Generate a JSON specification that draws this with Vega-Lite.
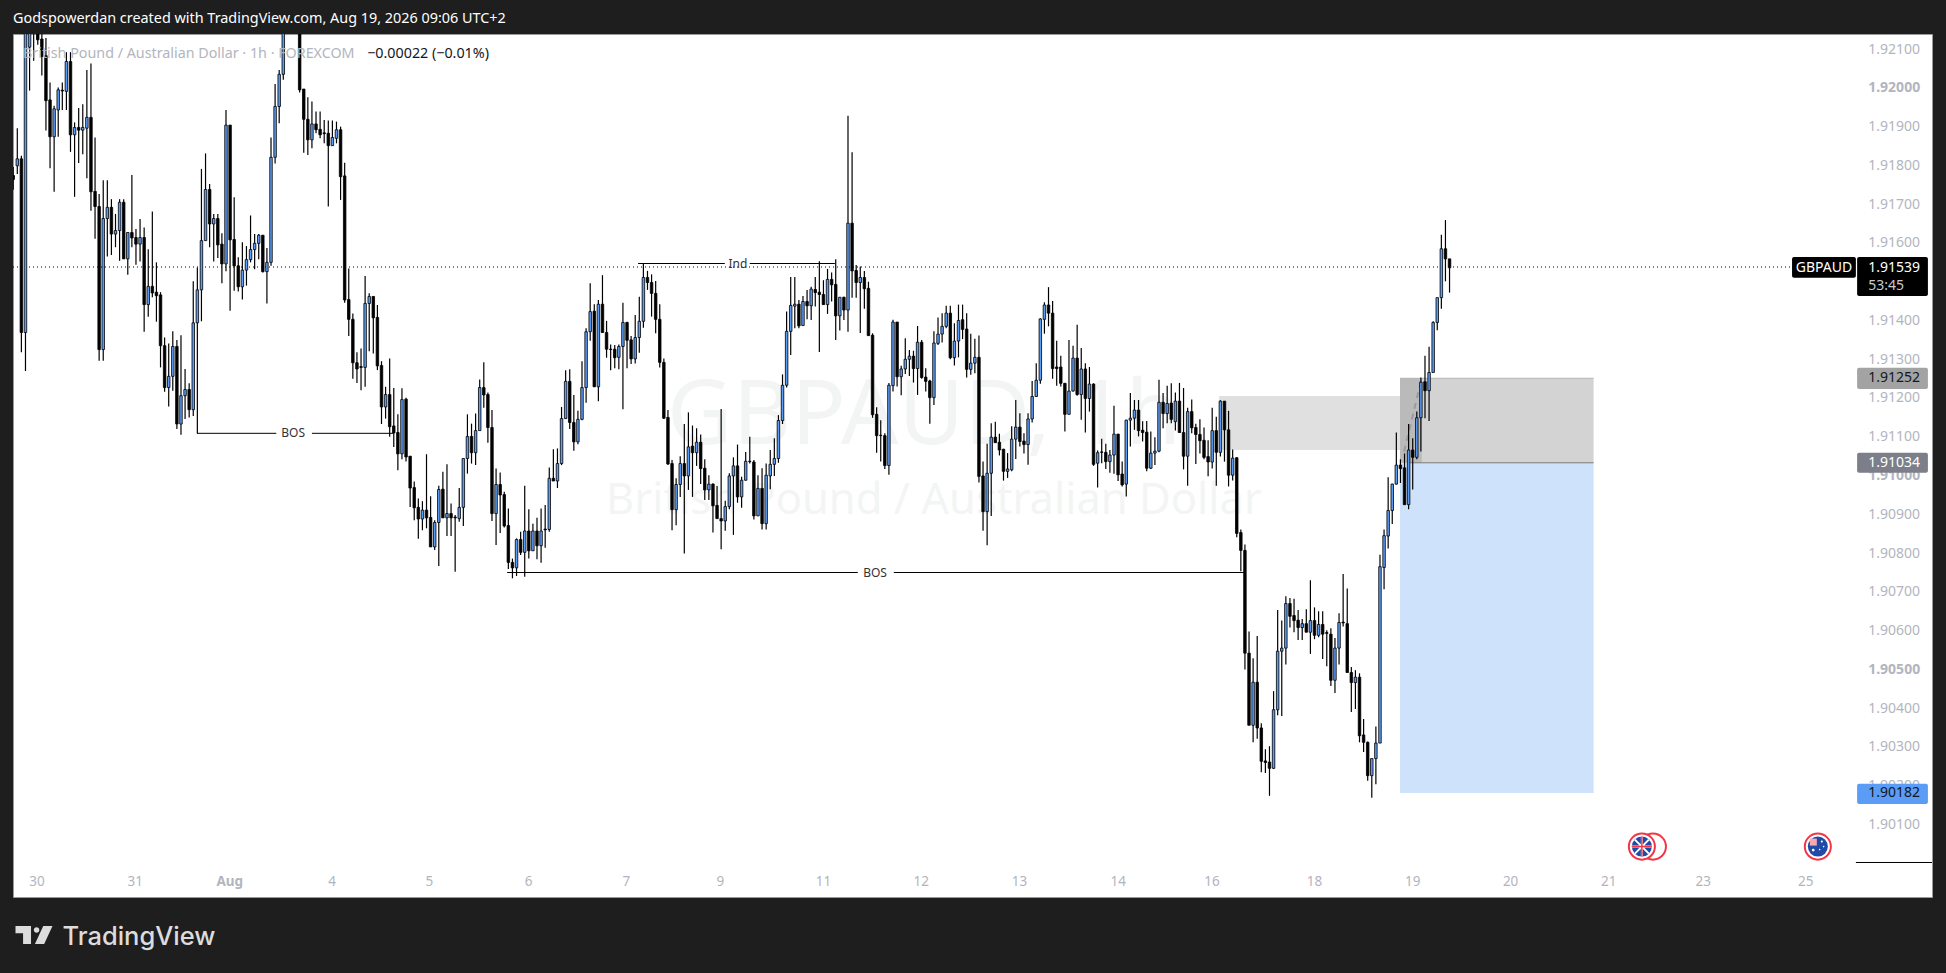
{
  "$schema": "https://vega.github.io/schema/vega-lite/v6.json",
  "width": 1919,
  "height": 863,
  "autosize": {"type": "none"},
  "padding": {"left": 13, "top": 34, "right": 14, "bottom": 76},
  "background": "#1e1e1e",
  "view": {"fill": "#ffffff", "stroke": "#9a9a9a"},
  "title": {
    "text": "Godspowerdan created with TradingView.com, Aug 19, 2026 09:06 UTC+2",
    "anchor": "start",
    "frame": "group",
    "color": "#ffffff",
    "font": "Noto Sans",
    "fontSize": 14.4,
    "fontWeight": "normal",
    "offset": 8
  },
  "resolve": {"scale": {"color": "independent"}},
  "datasets": {
    "candles": [
      {"i":0,"o":1.91775,"h":1.91797,"l":1.91738,"c":1.91765},
      {"i":1,"o":1.91800,"h":1.91897,"l":1.91779,"c":1.91818},
      {"i":2,"o":1.91818,"h":1.91826,"l":1.91319,"c":1.91370},
      {"i":3,"o":1.91370,"h":1.92269,"l":1.91271,"c":1.92166},
      {"i":4,"o":1.92106,"h":1.92192,"l":1.91994,"c":1.92157},
      {"i":5,"o":1.92192,"h":1.92209,"l":1.92071,"c":1.92149},
      {"i":6,"o":1.92174,"h":1.92192,"l":1.92112,"c":1.92125},
      {"i":7,"o":1.92127,"h":1.92140,"l":1.92033,"c":1.92082},
      {"i":8,"o":1.92084,"h":1.92130,"l":1.91891,"c":1.91968},
      {"i":9,"o":1.91970,"h":1.92015,"l":1.91794,"c":1.91875},
      {"i":10,"o":1.91875,"h":1.91955,"l":1.91733,"c":1.91947},
      {"i":11,"o":1.91944,"h":1.92002,"l":1.91875,"c":1.91996},
      {"i":12,"o":1.91995,"h":1.92015,"l":1.91944,"c":1.91993},
      {"i":13,"o":1.91992,"h":1.92093,"l":1.91944,"c":1.92069},
      {"i":14,"o":1.92069,"h":1.92093,"l":1.91836,"c":1.91880},
      {"i":15,"o":1.91880,"h":1.91912,"l":1.91720,"c":1.91899},
      {"i":16,"o":1.91899,"h":1.91949,"l":1.91807,"c":1.91892},
      {"i":17,"o":1.91892,"h":1.91959,"l":1.91830,"c":1.91899},
      {"i":18,"o":1.91897,"h":1.92047,"l":1.91768,"c":1.91925},
      {"i":19,"o":1.91925,"h":1.92064,"l":1.91684,"c":1.91733},
      {"i":20,"o":1.91734,"h":1.91873,"l":1.91612,"c":1.91695},
      {"i":21,"o":1.91695,"h":1.91727,"l":1.91297,"c":1.91326},
      {"i":22,"o":1.91326,"h":1.91763,"l":1.91297,"c":1.91664},
      {"i":23,"o":1.91664,"h":1.91763,"l":1.91566,"c":1.91693},
      {"i":24,"o":1.91693,"h":1.91714,"l":1.91570,"c":1.91624},
      {"i":25,"o":1.91624,"h":1.91676,"l":1.91590,"c":1.91633},
      {"i":26,"o":1.91633,"h":1.91714,"l":1.91555,"c":1.91706},
      {"i":27,"o":1.91706,"h":1.91714,"l":1.91560,"c":1.91560},
      {"i":28,"o":1.91560,"h":1.91628,"l":1.91519,"c":1.91628},
      {"i":29,"o":1.91628,"h":1.91776,"l":1.91590,"c":1.91614},
      {"i":30,"o":1.91615,"h":1.91637,"l":1.91545,"c":1.91598},
      {"i":31,"o":1.91598,"h":1.91663,"l":1.91553,"c":1.91615},
      {"i":32,"o":1.91615,"h":1.91641,"l":1.91372,"c":1.91442},
      {"i":33,"o":1.91442,"h":1.91585,"l":1.91411,"c":1.91489},
      {"i":34,"o":1.91489,"h":1.91682,"l":1.91461,"c":1.91472},
      {"i":35,"o":1.91474,"h":1.91551,"l":1.91398,"c":1.91465},
      {"i":36,"o":1.91467,"h":1.91474,"l":1.91280,"c":1.91336},
      {"i":37,"o":1.91336,"h":1.91357,"l":1.91217,"c":1.91228},
      {"i":38,"o":1.91228,"h":1.91342,"l":1.91179,"c":1.91257},
      {"i":39,"o":1.91257,"h":1.91373,"l":1.91220,"c":1.91334},
      {"i":40,"o":1.91334,"h":1.91351,"l":1.91121,"c":1.91134},
      {"i":41,"o":1.91134,"h":1.91363,"l":1.91106,"c":1.91207},
      {"i":42,"o":1.91207,"h":1.91276,"l":1.91147,"c":1.91223},
      {"i":43,"o":1.91223,"h":1.91239,"l":1.91151,"c":1.91171},
      {"i":44,"o":1.91171,"h":1.91502,"l":1.91155,"c":1.91395},
      {"i":45,"o":1.91395,"h":1.91538,"l":1.91110,"c":1.91480},
      {"i":46,"o":1.91480,"h":1.91792,"l":1.91399,"c":1.91607},
      {"i":47,"o":1.91607,"h":1.91832,"l":1.91607,"c":1.91739},
      {"i":48,"o":1.91739,"h":1.91753,"l":1.91590,"c":1.91650},
      {"i":49,"o":1.91650,"h":1.91676,"l":1.91553,"c":1.91664},
      {"i":50,"o":1.91664,"h":1.91676,"l":1.91562,"c":1.91596},
      {"i":51,"o":1.91598,"h":1.91626,"l":1.91497,"c":1.91547},
      {"i":52,"o":1.91547,"h":1.91944,"l":1.91528,"c":1.91905},
      {"i":53,"o":1.91905,"h":1.91905,"l":1.91426,"c":1.91609},
      {"i":54,"o":1.91610,"h":1.91719,"l":1.91478,"c":1.91542},
      {"i":55,"o":1.91542,"h":1.91564,"l":1.91476,"c":1.91488},
      {"i":56,"o":1.91488,"h":1.91603,"l":1.91455,"c":1.91531},
      {"i":57,"o":1.91531,"h":1.91593,"l":1.91491,"c":1.91558},
      {"i":58,"o":1.91558,"h":1.91672,"l":1.91551,"c":1.91584},
      {"i":59,"o":1.91584,"h":1.91624,"l":1.91533,"c":1.91600},
      {"i":60,"o":1.91600,"h":1.91624,"l":1.91559,"c":1.91621},
      {"i":61,"o":1.91621,"h":1.91621,"l":1.91525,"c":1.91527},
      {"i":62,"o":1.91527,"h":1.91588,"l":1.91445,"c":1.91551},
      {"i":63,"o":1.91551,"h":1.91873,"l":1.91542,"c":1.91822},
      {"i":64,"o":1.91822,"h":1.92011,"l":1.91806,"c":1.91953},
      {"i":65,"o":1.91953,"h":1.92047,"l":1.91910,"c":1.92036},
      {"i":66,"o":1.92036,"h":1.92174,"l":1.92022,"c":1.92157},
      {"i":67,"o":1.92190,"h":1.92220,"l":1.92145,"c":1.92160},
      {"i":68,"o":1.92200,"h":1.92230,"l":1.92150,"c":1.92170},
      {"i":69,"o":1.92190,"h":1.92210,"l":1.92145,"c":1.92155},
      {"i":70,"o":1.92157,"h":1.92183,"l":1.91989,"c":1.91996},
      {"i":71,"o":1.91998,"h":1.91998,"l":1.91834,"c":1.91920},
      {"i":72,"o":1.91920,"h":1.91977,"l":1.91828,"c":1.91867},
      {"i":73,"o":1.91867,"h":1.91966,"l":1.91845,"c":1.91908},
      {"i":74,"o":1.91908,"h":1.91940,"l":1.91884,"c":1.91893},
      {"i":75,"o":1.91894,"h":1.91940,"l":1.91871,"c":1.91880},
      {"i":76,"o":1.91885,"h":1.91918,"l":1.91858,"c":1.91883},
      {"i":77,"o":1.91884,"h":1.91917,"l":1.91695,"c":1.91852},
      {"i":78,"o":1.91852,"h":1.91917,"l":1.91852,"c":1.91873},
      {"i":79,"o":1.91871,"h":1.91914,"l":1.91858,"c":1.91893},
      {"i":80,"o":1.91893,"h":1.91901,"l":1.91712,"c":1.91772},
      {"i":81,"o":1.91774,"h":1.91808,"l":1.91447,"c":1.91454},
      {"i":82,"o":1.91455,"h":1.91535,"l":1.91361,"c":1.91404},
      {"i":83,"o":1.91404,"h":1.91419,"l":1.91251,"c":1.91292},
      {"i":84,"o":1.91292,"h":1.91319,"l":1.91240,"c":1.91276},
      {"i":85,"o":1.91282,"h":1.91329,"l":1.91221,"c":1.91280},
      {"i":86,"o":1.91280,"h":1.91516,"l":1.91230,"c":1.91445},
      {"i":87,"o":1.91445,"h":1.91471,"l":1.91322,"c":1.91463},
      {"i":88,"o":1.91463,"h":1.91463,"l":1.91316,"c":1.91408},
      {"i":89,"o":1.91409,"h":1.91441,"l":1.91273,"c":1.91284},
      {"i":90,"o":1.91285,"h":1.91296,"l":1.91134,"c":1.91178},
      {"i":91,"o":1.91178,"h":1.91230,"l":1.91148,"c":1.91210},
      {"i":92,"o":1.91210,"h":1.91303,"l":1.91101,"c":1.91127},
      {"i":93,"o":1.91129,"h":1.91227,"l":1.91075,"c":1.91111},
      {"i":94,"o":1.91112,"h":1.91159,"l":1.91015,"c":1.91057},
      {"i":95,"o":1.91057,"h":1.91226,"l":1.91043,"c":1.91197},
      {"i":96,"o":1.91198,"h":1.91202,"l":1.91037,"c":1.91049},
      {"i":97,"o":1.91051,"h":1.91051,"l":1.90920,"c":1.90969},
      {"i":98,"o":1.90970,"h":1.90986,"l":1.90886,"c":1.90918},
      {"i":99,"o":1.90919,"h":1.90942,"l":1.90838,"c":1.90889},
      {"i":100,"o":1.90889,"h":1.90935,"l":1.90860,"c":1.90912},
      {"i":101,"o":1.90912,"h":1.91056,"l":1.90865,"c":1.90892},
      {"i":102,"o":1.90893,"h":1.90948,"l":1.90817,"c":1.90817},
      {"i":103,"o":1.90817,"h":1.90886,"l":1.90809,"c":1.90880},
      {"i":104,"o":1.90880,"h":1.90975,"l":1.90768,"c":1.90965},
      {"i":105,"o":1.90966,"h":1.91011,"l":1.90892,"c":1.90892},
      {"i":106,"o":1.90892,"h":1.91030,"l":1.90845,"c":1.90903},
      {"i":107,"o":1.90903,"h":1.90929,"l":1.90845,"c":1.90892},
      {"i":108,"o":1.90894,"h":1.90899,"l":1.90753,"c":1.90892},
      {"i":109,"o":1.90890,"h":1.90969,"l":1.90882,"c":1.90919},
      {"i":110,"o":1.90919,"h":1.91045,"l":1.90871,"c":1.91045},
      {"i":111,"o":1.91045,"h":1.91159,"l":1.91006,"c":1.91102},
      {"i":112,"o":1.91102,"h":1.91135,"l":1.91032,"c":1.91060},
      {"i":113,"o":1.91060,"h":1.91161,"l":1.91028,"c":1.91117},
      {"i":114,"o":1.91117,"h":1.91249,"l":1.91117,"c":1.91228},
      {"i":115,"o":1.91228,"h":1.91293,"l":1.91176,"c":1.91209},
      {"i":116,"o":1.91210,"h":1.91215,"l":1.91086,"c":1.91125},
      {"i":117,"o":1.91125,"h":1.91170,"l":1.90884,"c":1.90903},
      {"i":118,"o":1.90903,"h":1.91019,"l":1.90822,"c":1.90978},
      {"i":119,"o":1.90978,"h":1.91009,"l":1.90853,"c":1.90951},
      {"i":120,"o":1.90952,"h":1.90959,"l":1.90867,"c":1.90871},
      {"i":121,"o":1.90872,"h":1.90916,"l":1.90760,"c":1.90777},
      {"i":122,"o":1.90777,"h":1.90787,"l":1.90736,"c":1.90763},
      {"i":123,"o":1.90763,"h":1.90839,"l":1.90742,"c":1.90836},
      {"i":124,"o":1.90836,"h":1.90856,"l":1.90796,"c":1.90803},
      {"i":125,"o":1.90803,"h":1.90975,"l":1.90740,"c":1.90858},
      {"i":126,"o":1.90858,"h":1.90914,"l":1.90787,"c":1.90807},
      {"i":127,"o":1.90807,"h":1.90877,"l":1.90807,"c":1.90858},
      {"i":128,"o":1.90858,"h":1.90892,"l":1.90785,"c":1.90820},
      {"i":129,"o":1.90820,"h":1.90916,"l":1.90776,"c":1.90858},
      {"i":130,"o":1.90863,"h":1.90925,"l":1.90815,"c":1.90861},
      {"i":131,"o":1.90862,"h":1.91022,"l":1.90856,"c":1.90994},
      {"i":132,"o":1.90994,"h":1.91069,"l":1.90987,"c":1.90987},
      {"i":133,"o":1.90987,"h":1.91071,"l":1.90969,"c":1.91032},
      {"i":134,"o":1.91032,"h":1.91178,"l":1.91028,"c":1.91148},
      {"i":135,"o":1.91148,"h":1.91273,"l":1.91147,"c":1.91244},
      {"i":136,"o":1.91244,"h":1.91275,"l":1.91121,"c":1.91138},
      {"i":137,"o":1.91138,"h":1.91209,"l":1.91065,"c":1.91088},
      {"i":138,"o":1.91088,"h":1.91168,"l":1.91082,"c":1.91146},
      {"i":139,"o":1.91146,"h":1.91296,"l":1.91144,"c":1.91228},
      {"i":140,"o":1.91228,"h":1.91381,"l":1.91189,"c":1.91372},
      {"i":141,"o":1.91372,"h":1.91497,"l":1.91349,"c":1.91424},
      {"i":142,"o":1.91425,"h":1.91443,"l":1.91230,"c":1.91230},
      {"i":143,"o":1.91230,"h":1.91454,"l":1.91193,"c":1.91443},
      {"i":144,"o":1.91443,"h":1.91518,"l":1.91370,"c":1.91370},
      {"i":145,"o":1.91370,"h":1.91400,"l":1.91305,"c":1.91327},
      {"i":146,"o":1.91327,"h":1.91339,"l":1.91273,"c":1.91326},
      {"i":147,"o":1.91327,"h":1.91338,"l":1.91278,"c":1.91305},
      {"i":148,"o":1.91306,"h":1.91339,"l":1.91275,"c":1.91334},
      {"i":149,"o":1.91334,"h":1.91447,"l":1.91172,"c":1.91396},
      {"i":150,"o":1.91396,"h":1.91398,"l":1.91278,"c":1.91350},
      {"i":151,"o":1.91351,"h":1.91361,"l":1.91289,"c":1.91302},
      {"i":152,"o":1.91302,"h":1.91415,"l":1.91290,"c":1.91357},
      {"i":153,"o":1.91357,"h":1.91462,"l":1.91318,"c":1.91399},
      {"i":154,"o":1.91399,"h":1.91548,"l":1.91382,"c":1.91512},
      {"i":155,"o":1.91512,"h":1.91529,"l":1.91480,"c":1.91499},
      {"i":156,"o":1.91499,"h":1.91520,"l":1.91411,"c":1.91471},
      {"i":157,"o":1.91471,"h":1.91503,"l":1.91368,"c":1.91404},
      {"i":158,"o":1.91404,"h":1.91443,"l":1.91280,"c":1.91293},
      {"i":159,"o":1.91293,"h":1.91303,"l":1.91147,"c":1.91149},
      {"i":160,"o":1.91151,"h":1.91170,"l":1.91028,"c":1.91031},
      {"i":161,"o":1.91032,"h":1.91041,"l":1.90860,"c":1.90913},
      {"i":162,"o":1.90913,"h":1.90994,"l":1.90873,"c":1.90978},
      {"i":163,"o":1.90978,"h":1.91051,"l":1.90946,"c":1.91032},
      {"i":164,"o":1.91032,"h":1.91134,"l":1.90800,"c":1.91000},
      {"i":165,"o":1.91000,"h":1.91164,"l":1.90964,"c":1.91075},
      {"i":166,"o":1.91077,"h":1.91130,"l":1.90946,"c":1.91060},
      {"i":167,"o":1.91060,"h":1.91123,"l":1.91026,"c":1.91087},
      {"i":168,"o":1.91087,"h":1.91107,"l":1.90979,"c":1.91019},
      {"i":169,"o":1.91020,"h":1.91043,"l":1.90938,"c":1.90964},
      {"i":170,"o":1.90964,"h":1.91002,"l":1.90938,"c":1.90979},
      {"i":171,"o":1.90979,"h":1.90981,"l":1.90854,"c":1.90923},
      {"i":172,"o":1.90924,"h":1.90974,"l":1.90890,"c":1.90890},
      {"i":173,"o":1.90890,"h":1.91173,"l":1.90811,"c":1.90884},
      {"i":174,"o":1.90884,"h":1.90936,"l":1.90859,"c":1.90921},
      {"i":175,"o":1.90921,"h":1.91007,"l":1.90914,"c":1.91000},
      {"i":176,"o":1.91000,"h":1.91048,"l":1.90848,"c":1.91026},
      {"i":177,"o":1.91026,"h":1.91081,"l":1.90931,"c":1.90946},
      {"i":178,"o":1.90946,"h":1.90998,"l":1.90918,"c":1.90989},
      {"i":179,"o":1.90989,"h":1.91062,"l":1.90988,"c":1.91038},
      {"i":180,"o":1.91038,"h":1.91101,"l":1.91032,"c":1.91037},
      {"i":181,"o":1.91036,"h":1.91041,"l":1.90888,"c":1.90897},
      {"i":182,"o":1.90897,"h":1.91002,"l":1.90897,"c":1.90968},
      {"i":183,"o":1.90968,"h":1.91020,"l":1.90862,"c":1.90877},
      {"i":184,"o":1.90877,"h":1.91032,"l":1.90862,"c":1.91002},
      {"i":185,"o":1.91000,"h":1.91067,"l":1.90966,"c":1.91030},
      {"i":186,"o":1.91030,"h":1.91097,"l":1.91000,"c":1.91045},
      {"i":187,"o":1.91045,"h":1.91157,"l":1.91034,"c":1.91143},
      {"i":188,"o":1.91143,"h":1.91262,"l":1.91134,"c":1.91234},
      {"i":189,"o":1.91234,"h":1.91424,"l":1.91228,"c":1.91373},
      {"i":190,"o":1.91373,"h":1.91513,"l":1.91312,"c":1.91440},
      {"i":191,"o":1.91438,"h":1.91513,"l":1.91381,"c":1.91443},
      {"i":192,"o":1.91443,"h":1.91454,"l":1.91381,"c":1.91387},
      {"i":193,"o":1.91388,"h":1.91464,"l":1.91388,"c":1.91450},
      {"i":194,"o":1.91450,"h":1.91480,"l":1.91404,"c":1.91439},
      {"i":195,"o":1.91439,"h":1.91488,"l":1.91402,"c":1.91482},
      {"i":196,"o":1.91481,"h":1.91513,"l":1.91437,"c":1.91473},
      {"i":197,"o":1.91474,"h":1.91554,"l":1.91320,"c":1.91468},
      {"i":198,"o":1.91468,"h":1.91505,"l":1.91442,"c":1.91442},
      {"i":199,"o":1.91442,"h":1.91534,"l":1.91418,"c":1.91507},
      {"i":200,"o":1.91507,"h":1.91525,"l":1.91450,"c":1.91493},
      {"i":201,"o":1.91494,"h":1.91559,"l":1.91351,"c":1.91413},
      {"i":202,"o":1.91413,"h":1.91461,"l":1.91375,"c":1.91461},
      {"i":203,"o":1.91461,"h":1.91462,"l":1.91402,"c":1.91428},
      {"i":204,"o":1.91428,"h":1.91929,"l":1.91372,"c":1.91652},
      {"i":205,"o":1.91652,"h":1.91835,"l":1.91460,"c":1.91529},
      {"i":206,"o":1.91530,"h":1.91544,"l":1.91460,"c":1.91499},
      {"i":207,"o":1.91499,"h":1.91540,"l":1.91369,"c":1.91512},
      {"i":208,"o":1.91512,"h":1.91529,"l":1.91431,"c":1.91483},
      {"i":209,"o":1.91484,"h":1.91501,"l":1.91362,"c":1.91362},
      {"i":210,"o":1.91363,"h":1.91368,"l":1.91150,"c":1.91158},
      {"i":211,"o":1.91159,"h":1.91177,"l":1.91060,"c":1.91104},
      {"i":212,"o":1.91105,"h":1.91144,"l":1.91037,"c":1.91104},
      {"i":213,"o":1.91104,"h":1.91110,"l":1.91018,"c":1.91027},
      {"i":214,"o":1.91027,"h":1.91240,"l":1.91003,"c":1.91234},
      {"i":215,"o":1.91233,"h":1.91403,"l":1.91218,"c":1.91397},
      {"i":216,"o":1.91397,"h":1.91397,"l":1.91231,"c":1.91256},
      {"i":217,"o":1.91256,"h":1.91284,"l":1.91208,"c":1.91276},
      {"i":218,"o":1.91276,"h":1.91355,"l":1.91263,"c":1.91301},
      {"i":219,"o":1.91301,"h":1.91325,"l":1.91258,"c":1.91309},
      {"i":220,"o":1.91309,"h":1.91323,"l":1.91241,"c":1.91277},
      {"i":221,"o":1.91277,"h":1.91387,"l":1.91209,"c":1.91345},
      {"i":222,"o":1.91345,"h":1.91351,"l":1.91251,"c":1.91254},
      {"i":223,"o":1.91255,"h":1.91278,"l":1.91218,"c":1.91244},
      {"i":224,"o":1.91245,"h":1.91248,"l":1.91135,"c":1.91202},
      {"i":225,"o":1.91202,"h":1.91373,"l":1.91183,"c":1.91343},
      {"i":226,"o":1.91342,"h":1.91409,"l":1.91338,"c":1.91366},
      {"i":227,"o":1.91366,"h":1.91420,"l":1.91344,"c":1.91386},
      {"i":228,"o":1.91386,"h":1.91439,"l":1.91381,"c":1.91420},
      {"i":229,"o":1.91420,"h":1.91439,"l":1.91301,"c":1.91305},
      {"i":230,"o":1.91305,"h":1.91394,"l":1.91285,"c":1.91348},
      {"i":231,"o":1.91348,"h":1.91442,"l":1.91306,"c":1.91401},
      {"i":232,"o":1.91403,"h":1.91442,"l":1.91353,"c":1.91378},
      {"i":233,"o":1.91379,"h":1.91420,"l":1.91254,"c":1.91275},
      {"i":234,"o":1.91275,"h":1.91367,"l":1.91261,"c":1.91291},
      {"i":235,"o":1.91291,"h":1.91354,"l":1.91265,"c":1.91306},
      {"i":236,"o":1.91306,"h":1.91362,"l":1.90983,"c":1.90999},
      {"i":237,"o":1.91000,"h":1.91037,"l":1.90859,"c":1.90908},
      {"i":238,"o":1.90908,"h":1.91083,"l":1.90821,"c":1.91007},
      {"i":239,"o":1.91007,"h":1.91136,"l":1.90897,"c":1.91100},
      {"i":240,"o":1.91100,"h":1.91140,"l":1.91085,"c":1.91086},
      {"i":241,"o":1.91087,"h":1.91109,"l":1.91053,"c":1.91067},
      {"i":242,"o":1.91069,"h":1.91070,"l":1.90988,"c":1.91012},
      {"i":243,"o":1.91012,"h":1.91059,"l":1.90995,"c":1.91018},
      {"i":244,"o":1.91016,"h":1.91128,"l":1.91012,"c":1.91095},
      {"i":245,"o":1.91095,"h":1.91196,"l":1.91044,"c":1.91126},
      {"i":246,"o":1.91126,"h":1.91162,"l":1.91076,"c":1.91089},
      {"i":247,"o":1.91090,"h":1.91110,"l":1.91058,"c":1.91081},
      {"i":248,"o":1.91081,"h":1.91162,"l":1.91029,"c":1.91147},
      {"i":249,"o":1.91147,"h":1.91245,"l":1.91138,"c":1.91205},
      {"i":250,"o":1.91205,"h":1.91291,"l":1.91205,"c":1.91247},
      {"i":251,"o":1.91247,"h":1.91407,"l":1.91238,"c":1.91405},
      {"i":252,"o":1.91404,"h":1.91448,"l":1.91367,"c":1.91441},
      {"i":253,"o":1.91441,"h":1.91487,"l":1.91386,"c":1.91420},
      {"i":254,"o":1.91420,"h":1.91451,"l":1.91251,"c":1.91277},
      {"i":255,"o":1.91281,"h":1.91349,"l":1.91233,"c":1.91277},
      {"i":256,"o":1.91281,"h":1.91310,"l":1.91231,"c":1.91239},
      {"i":257,"o":1.91239,"h":1.91239,"l":1.91115,"c":1.91159},
      {"i":258,"o":1.91159,"h":1.91351,"l":1.91159,"c":1.91219},
      {"i":259,"o":1.91219,"h":1.91336,"l":1.91218,"c":1.91304},
      {"i":260,"o":1.91304,"h":1.91390,"l":1.91207,"c":1.91210},
      {"i":261,"o":1.91210,"h":1.91330,"l":1.91145,"c":1.91276},
      {"i":262,"o":1.91276,"h":1.91291,"l":1.91112,"c":1.91200},
      {"i":263,"o":1.91200,"h":1.91281,"l":1.91166,"c":1.91237},
      {"i":264,"o":1.91237,"h":1.91239,"l":1.91026,"c":1.91030},
      {"i":265,"o":1.91033,"h":1.91066,"l":1.90970,"c":1.91060},
      {"i":266,"o":1.91062,"h":1.91096,"l":1.91033,"c":1.91061},
      {"i":267,"o":1.91061,"h":1.91083,"l":1.91018,"c":1.91037},
      {"i":268,"o":1.91037,"h":1.91067,"l":1.91008,"c":1.91054},
      {"i":269,"o":1.91054,"h":1.91181,"l":1.91006,"c":1.91108},
      {"i":270,"o":1.91108,"h":1.91108,"l":1.90987,"c":1.91003},
      {"i":271,"o":1.91005,"h":1.91037,"l":1.90973,"c":1.90977},
      {"i":272,"o":1.90979,"h":1.91145,"l":1.90947,"c":1.91144},
      {"i":273,"o":1.91144,"h":1.91214,"l":1.91076,"c":1.91149},
      {"i":274,"o":1.91149,"h":1.91196,"l":1.91119,"c":1.91170},
      {"i":275,"o":1.91170,"h":1.91196,"l":1.91102,"c":1.91117},
      {"i":276,"o":1.91118,"h":1.91141,"l":1.91089,"c":1.91112},
      {"i":277,"o":1.91113,"h":1.91142,"l":1.91012,"c":1.91020},
      {"i":278,"o":1.91020,"h":1.91115,"l":1.91018,"c":1.91059},
      {"i":279,"o":1.91059,"h":1.91100,"l":1.91028,"c":1.91064},
      {"i":280,"o":1.91064,"h":1.91248,"l":1.91061,"c":1.91190},
      {"i":281,"o":1.91190,"h":1.91214,"l":1.91123,"c":1.91161},
      {"i":282,"o":1.91161,"h":1.91233,"l":1.91136,"c":1.91187},
      {"i":283,"o":1.91188,"h":1.91239,"l":1.91136,"c":1.91146},
      {"i":284,"o":1.91140,"h":1.91215,"l":1.91117,"c":1.91193},
      {"i":285,"o":1.91193,"h":1.91240,"l":1.91112,"c":1.91112},
      {"i":286,"o":1.91112,"h":1.91227,"l":1.91017,"c":1.91051},
      {"i":287,"o":1.91051,"h":1.91176,"l":1.90975,"c":1.91166},
      {"i":288,"o":1.91166,"h":1.91197,"l":1.91110,"c":1.91124},
      {"i":289,"o":1.91125,"h":1.91135,"l":1.91031,"c":1.91107},
      {"i":290,"o":1.91107,"h":1.91146,"l":1.91058,"c":1.91091},
      {"i":291,"o":1.91092,"h":1.91125,"l":1.91043,"c":1.91048},
      {"i":292,"o":1.91050,"h":1.91092,"l":1.90999,"c":1.91036},
      {"i":293,"o":1.91036,"h":1.91176,"l":1.91019,"c":1.91117},
      {"i":294,"o":1.91117,"h":1.91153,"l":1.90975,"c":1.91061},
      {"i":295,"o":1.91061,"h":1.91195,"l":1.91050,"c":1.91193},
      {"i":296,"o":1.91193,"h":1.91193,"l":1.91037,"c":1.91119},
      {"i":297,"o":1.91119,"h":1.91168,"l":1.90973,"c":1.91002},
      {"i":298,"o":1.91002,"h":1.91068,"l":1.90988,"c":1.91046},
      {"i":299,"o":1.91047,"h":1.91048,"l":1.90842,"c":1.90852},
      {"i":300,"o":1.90854,"h":1.90862,"l":1.90754,"c":1.90808},
      {"i":301,"o":1.90808,"h":1.90823,"l":1.90501,"c":1.90543},
      {"i":302,"o":1.90543,"h":1.90599,"l":1.90357,"c":1.90357},
      {"i":303,"o":1.90357,"h":1.90530,"l":1.90313,"c":1.90468},
      {"i":304,"o":1.90468,"h":1.90587,"l":1.90322,"c":1.90350},
      {"i":305,"o":1.90350,"h":1.90362,"l":1.90236,"c":1.90264},
      {"i":306,"o":1.90265,"h":1.90295,"l":1.90234,"c":1.90261},
      {"i":307,"o":1.90262,"h":1.90303,"l":1.90175,"c":1.90246},
      {"i":308,"o":1.90246,"h":1.90445,"l":1.90244,"c":1.90397},
      {"i":309,"o":1.90397,"h":1.90654,"l":1.90383,"c":1.90548},
      {"i":310,"o":1.90548,"h":1.90627,"l":1.90381,"c":1.90556},
      {"i":311,"o":1.90556,"h":1.90690,"l":1.90514,"c":1.90671},
      {"i":312,"o":1.90671,"h":1.90685,"l":1.90609,"c":1.90638},
      {"i":313,"o":1.90640,"h":1.90683,"l":1.90597,"c":1.90627},
      {"i":314,"o":1.90628,"h":1.90654,"l":1.90577,"c":1.90609},
      {"i":315,"o":1.90609,"h":1.90631,"l":1.90577,"c":1.90619},
      {"i":316,"o":1.90619,"h":1.90656,"l":1.90597,"c":1.90597},
      {"i":317,"o":1.90597,"h":1.90731,"l":1.90541,"c":1.90627},
      {"i":318,"o":1.90627,"h":1.90661,"l":1.90579,"c":1.90589},
      {"i":319,"o":1.90589,"h":1.90651,"l":1.90584,"c":1.90617},
      {"i":320,"o":1.90617,"h":1.90651,"l":1.90528,"c":1.90592},
      {"i":321,"o":1.90596,"h":1.90602,"l":1.90509,"c":1.90594},
      {"i":322,"o":1.90592,"h":1.90607,"l":1.90458,"c":1.90473},
      {"i":323,"o":1.90473,"h":1.90582,"l":1.90440,"c":1.90556},
      {"i":324,"o":1.90556,"h":1.90646,"l":1.90514,"c":1.90622},
      {"i":325,"o":1.90623,"h":1.90747,"l":1.90612,"c":1.90621},
      {"i":326,"o":1.90619,"h":1.90710,"l":1.90493,"c":1.90493},
      {"i":327,"o":1.90493,"h":1.90507,"l":1.90391,"c":1.90467},
      {"i":328,"o":1.90467,"h":1.90499,"l":1.90399,"c":1.90481},
      {"i":329,"o":1.90481,"h":1.90491,"l":1.90313,"c":1.90330},
      {"i":330,"o":1.90332,"h":1.90373,"l":1.90288,"c":1.90313},
      {"i":331,"o":1.90313,"h":1.90315,"l":1.90214,"c":1.90227},
      {"i":332,"o":1.90227,"h":1.90271,"l":1.90170,"c":1.90271},
      {"i":333,"o":1.90271,"h":1.90354,"l":1.90205,"c":1.90311},
      {"i":334,"o":1.90311,"h":1.90797,"l":1.90311,"c":1.90766},
      {"i":335,"o":1.90764,"h":1.90862,"l":1.90708,"c":1.90846},
      {"i":336,"o":1.90845,"h":1.90997,"l":1.90813,"c":1.90911},
      {"i":337,"o":1.90911,"h":1.90980,"l":1.90876,"c":1.90979},
      {"i":338,"o":1.90979,"h":1.91112,"l":1.90978,"c":1.91028},
      {"i":339,"o":1.91028,"h":1.91043,"l":1.90982,"c":1.91019},
      {"i":340,"o":1.91021,"h":1.91058,"l":1.90926,"c":1.90926},
      {"i":341,"o":1.90926,"h":1.91134,"l":1.90914,"c":1.91067},
      {"i":342,"o":1.91067,"h":1.91097,"l":1.90965,"c":1.91048},
      {"i":343,"o":1.91048,"h":1.91166,"l":1.91043,"c":1.91150},
      {"i":344,"o":1.91150,"h":1.91254,"l":1.91063,"c":1.91242},
      {"i":345,"o":1.91243,"h":1.91310,"l":1.91149,"c":1.91220},
      {"i":346,"o":1.91220,"h":1.91333,"l":1.91142,"c":1.91267},
      {"i":347,"o":1.91267,"h":1.91399,"l":1.91267,"c":1.91396},
      {"i":348,"o":1.91396,"h":1.91460,"l":1.91376,"c":1.91460},
      {"i":349,"o":1.91460,"h":1.91622,"l":1.91431,"c":1.91586},
      {"i":350,"o":1.91586,"h":1.91660,"l":1.91502,"c":1.91560},
      {"i":351,"o":1.91560,"h":1.91560,"l":1.91473,"c":1.91537}
    ]
  },
  "encoding": {
    "x": {
      "field": "i",
      "type": "quantitative",
      "scale": {"domain": [-0.05, 468.9], "nice": false, "zero": false, "padding": 0},
      "axis": {
        "title": "TradingView",
        "titleFont": "Inter",
        "titleFontSize": 25.5,
        "titleFontWeight": 500,
        "titleColor": "#dcdcdc",
        "titleAnchor": "start",
        "titleAlign": "left",
        "titleBaseline": "middle",
        "titleX": 49,
        "titleY": 39,
        "domain": false,
        "ticks": false,
        "grid": false,
        "labelFont": "Noto Sans",
        "labelFontSize": 13.5,
        "labelColor": "#b2b5be",
        "labelBaseline": "middle",
        "labelPadding": -16,
        "labelOverlap": false,
        "labelFontWeight": {"condition": {"test": "datum.value == 52.8", "value": "bold"}, "value": "normal"},
        "values": [5.7, 29.7, 52.8, 77.8, 101.6, 125.8, 149.7, 172.7, 197.9, 221.8, 245.8, 269.9, 292.8, 317.9, 341.9, 365.8, 389.8, 412.9, 437.9],
        "labelExpr": "{'5.7':'30','29.7':'31','52.8':'Aug','77.8':'4','101.6':'5','125.8':'6','149.7':'7','172.7':'9','197.9':'11','221.8':'12','245.8':'13','269.9':'14','292.8':'16','317.9':'18','341.9':'19','365.8':'20','389.8':'21','412.9':'23','437.9':'25'}[datum.value]"
      }
    },
    "y": {
      "field": "p",
      "type": "quantitative",
      "scale": {"domain": [1.89914, 1.9214], "nice": false, "zero": false},
      "axis": null
    }
  },
  "layer": [
    {
      "data": {"values": [{"i": 222.6, "p": 1.91152, "label": "GBPAUD, 1h"}]},
      "mark": {"type": "text", "font": "Noto Sans", "fontSize": 90, "color": "#f3f5f5", "align": "center", "baseline": "middle"},
      "encoding": {"text": {"field": "label"}}
    },
    {
      "data": {"values": [{"i": 225, "p": 1.90935, "label": "British Pound / Australian Dollar"}]},
      "mark": {"type": "text", "font": "Noto Sans", "fontSize": 43.5, "color": "#f3f5f5", "align": "center", "baseline": "middle"},
      "encoding": {"text": {"field": "label"}}
    },
    {
      "data": {"values": [
        {"i": 453.3, "p": 1.921, "label": "1.92100"},
        {"i": 453.3, "p": 1.919, "label": "1.91900"},
        {"i": 453.3, "p": 1.918, "label": "1.91800"},
        {"i": 453.3, "p": 1.917, "label": "1.91700"},
        {"i": 453.3, "p": 1.916, "label": "1.91600"},
        {"i": 453.3, "p": 1.915, "label": "1.91500"},
        {"i": 453.3, "p": 1.914, "label": "1.91400"},
        {"i": 453.3, "p": 1.913, "label": "1.91300"},
        {"i": 453.3, "p": 1.912, "label": "1.91200"},
        {"i": 453.3, "p": 1.911, "label": "1.91100"},
        {"i": 453.3, "p": 1.909, "label": "1.90900"},
        {"i": 453.3, "p": 1.908, "label": "1.90800"},
        {"i": 453.3, "p": 1.907, "label": "1.90700"},
        {"i": 453.3, "p": 1.906, "label": "1.90600"},
        {"i": 453.3, "p": 1.904, "label": "1.90400"},
        {"i": 453.3, "p": 1.903, "label": "1.90300"},
        {"i": 453.3, "p": 1.902, "label": "1.90200"},
        {"i": 453.3, "p": 1.901, "label": "1.90100"}
      ]},
      "mark": {"type": "text", "font": "Noto Sans", "fontSize": 14, "color": "#b2b5be", "align": "left", "baseline": "middle"},
      "encoding": {"text": {"field": "label"}}
    },
    {
      "data": {"values": [
        {"i": 453.3, "p": 1.92, "label": "1.92000"},
        {"i": 453.3, "p": 1.91, "label": "1.91000"},
        {"i": 453.3, "p": 1.905, "label": "1.90500"}
      ]},
      "mark": {"type": "text", "font": "Noto Sans", "fontSize": 14, "fontWeight": "bold", "color": "#b2b5be", "align": "left", "baseline": "middle"},
      "encoding": {"text": {"field": "label"}}
    },
    {
      "data": {"values": [
        {"zone": "target", "i": 338.9, "i2": 386.2, "p": 1.91034, "p2": 1.90182},
        {"zone": "stop", "i": 338.9, "i2": 386.2, "p": 1.91252, "p2": 1.91034},
        {"zone": "supply", "i": 294.7, "i2": 340.1, "p": 1.91206, "p2": 1.91067},
        {"zone": "entry", "i": 338.9, "i2": 344.2, "p": 1.91252, "p2": 1.91034}
      ]},
      "mark": {"type": "rect"},
      "encoding": {
        "x2": {"field": "i2"},
        "y2": {"field": "p2"},
        "color": {
          "field": "zone",
          "type": "nominal",
          "legend": null,
          "scale": {"domain": ["target", "stop", "supply", "entry"], "range": ["#cfe2fb", "#d3d3d3", "#e0e0e0", "#bababa"]}
        }
      }
    },
    {
      "data": {"values": [{"i": 338.9, "i2": 386.2, "p": 1.91252}]},
      "mark": {"type": "rule", "color": "#b4b4b4", "strokeWidth": 1},
      "encoding": {"x2": {"field": "i2"}}
    },
    {
      "data": {"values": [{"i": 341.4, "i2": 386.2, "p": 1.91034}]},
      "mark": {"type": "rule", "color": "#787878", "strokeWidth": 1},
      "encoding": {"x2": {"field": "i2"}}
    },
    {
      "data": {"values": [{"i": -0.05, "i2": 434.4, "p": 1.91539}]},
      "mark": {"type": "rule", "color": "#000000", "strokeWidth": 1, "strokeDash": [1, 3]},
      "encoding": {"x2": {"field": "i2"}}
    },
    {
      "data": {"values": [{"i": 339.9, "i2": 344.1, "p": 1.91063, "p2": 1.91248}]},
      "mark": {"type": "rule", "color": "#9a9a9f", "strokeWidth": 2, "strokeDash": [6, 5]},
      "encoding": {"x2": {"field": "i2"}, "y2": {"field": "p2"}}
    },
    {
      "data": {"name": "candles"},
      "mark": {"type": "rule", "color": "#000000", "strokeWidth": 1.2, "clip": true},
      "encoding": {
        "y": {"field": "h", "type": "quantitative"},
        "y2": {"field": "l"}
      }
    },
    {
      "data": {"name": "candles"},
      "mark": {"type": "bar", "size": 2.5, "stroke": "#000000", "strokeWidth": 0.8, "clip": true},
      "encoding": {
        "y": {"field": "o", "type": "quantitative"},
        "y2": {"field": "c"},
        "color": {"condition": {"test": "datum.c >= datum.o", "value": "#5b9cf6"}, "value": "#000000"}
      }
    },
    {
      "data": {"values": [
        {"i": 44.9, "i2": 64.3, "p": 1.9111},
        {"i": 73, "i2": 92.8, "p": 1.9111},
        {"i": 120.7, "i2": 206.4, "p": 1.90751},
        {"i": 215.2, "i2": 301, "p": 1.90751},
        {"i": 152.7, "i2": 173.9, "p": 1.91548},
        {"i": 180, "i2": 200.8, "p": 1.91548},
        {"i": 450.3, "i2": 468.9, "p": 1.90003}
      ]},
      "mark": {"type": "rule", "color": "#000000", "strokeWidth": 1},
      "encoding": {"x2": {"field": "i2"}}
    },
    {
      "data": {"values": [
        {"i": 68.4, "p": 1.9111, "label": "BOS"},
        {"i": 210.6, "p": 1.90751, "label": "BOS"},
        {"i": 177.1, "p": 1.91548, "label": "Ind"}
      ]},
      "mark": {"type": "text", "font": "Noto Sans", "fontSize": 12, "color": "#333333", "align": "center", "baseline": "middle"},
      "encoding": {"text": {"field": "label"}}
    },
    {
      "data": {"values": [{"i": 2.4, "p": 1.92089, "label": "British Pound / Australian Dollar · 1h · FOREXCOM"}]},
      "mark": {"type": "text", "font": "Noto Sans", "fontSize": 14.3, "color": "#b2b5be", "align": "left", "baseline": "middle"},
      "encoding": {"text": {"field": "label"}}
    },
    {
      "data": {"values": [{"i": 86.5, "p": 1.92089, "label": "−0.00022 (−0.01%)"}]},
      "mark": {"type": "text", "font": "Noto Sans", "fontSize": 14.3, "color": "#131722", "align": "left", "baseline": "middle"},
      "encoding": {"text": {"field": "label"}}
    },
    {
      "data": {"values": [
        {"tag": "last", "i": 450.6, "i2": 467.9, "p": 1.91565, "p2": 1.91464},
        {"tag": "name", "i": 434.7, "i2": 450.3, "p": 1.91565, "p2": 1.91511},
        {"tag": "stop", "i": 450.6, "i2": 467.9, "p": 1.91279, "p2": 1.91224},
        {"tag": "entry", "i": 450.6, "i2": 467.9, "p": 1.9106, "p2": 1.91008},
        {"tag": "target", "i": 450.6, "i2": 467.9, "p": 1.90206, "p2": 1.90154}
      ]},
      "mark": {"type": "rect", "cornerRadius": 2},
      "encoding": {
        "x2": {"field": "i2"},
        "y2": {"field": "p2"},
        "color": {
          "field": "tag",
          "type": "nominal",
          "legend": null,
          "scale": {"domain": ["last", "name", "stop", "entry", "target"], "range": ["#000000", "#000000", "#a3a3a3", "#7c7f8a", "#5b9cf6"]}
        }
      }
    },
    {
      "data": {"values": [
        {"i": 453.3, "p": 1.91537, "label": "1.91539"},
        {"i": 453.3, "p": 1.91034, "label": "1.91034"}
      ]},
      "mark": {"type": "text", "font": "Noto Sans", "fontSize": 14, "color": "#ffffff", "align": "left", "baseline": "middle"},
      "encoding": {"text": {"field": "label"}}
    },
    {
      "data": {"values": [
        {"i": 453.3, "p": 1.91252, "label": "1.91252"},
        {"i": 453.3, "p": 1.90182, "label": "1.90182"}
      ]},
      "mark": {"type": "text", "font": "Noto Sans", "fontSize": 14, "color": "#131722", "align": "left", "baseline": "middle"},
      "encoding": {"text": {"field": "label"}}
    },
    {
      "data": {"values": [{"i": 453.3, "p": 1.9149, "label": "53:45"}]},
      "mark": {"type": "text", "font": "Noto Sans", "fontSize": 14, "color": "#c8cad0", "align": "left", "baseline": "middle"},
      "encoding": {"text": {"field": "label"}}
    },
    {
      "data": {"values": [{"i": 442.5, "p": 1.91537, "label": "GBPAUD"}]},
      "mark": {"type": "text", "font": "Noto Sans", "fontSize": 14, "color": "#ffffff", "align": "center", "baseline": "middle"},
      "encoding": {"text": {"field": "label"}}
    },
    {
      "data": {"values": [{"i": 400.7, "p": 1.90044}, {"i": 398, "p": 1.90044}, {"i": 441, "p": 1.90044}]},
      "mark": {"type": "point", "shape": "circle", "size": 680, "filled": true, "fill": "#ffffff", "stroke": "#f23645", "strokeWidth": 2, "opacity": 1}
    },
    {
      "data": {"values": [{"i": 398, "p": 1.90044}, {"i": 441, "p": 1.90044}]},
      "mark": {"type": "point", "shape": "circle", "size": 400, "filled": true, "fill": "#1f4aa8", "opacity": 1}
    },
    {
      "data": {"values": [{"i": 398, "p": 1.90044}]},
      "mark": {"type": "point", "shape": "M-.7,-.7L.7,.7M.7,-.7L-.7,.7M-1,0H1M0,-1V1", "size": 400, "filled": false, "stroke": "#ffffff", "strokeWidth": 2, "opacity": 1}
    },
    {
      "data": {"values": [{"i": 398, "p": 1.90044}]},
      "mark": {"type": "point", "shape": "M-1,0H1M0,-1V1", "size": 400, "filled": false, "stroke": "#f23645", "strokeWidth": 1.5, "opacity": 1}
    },
    {
      "data": {"values": [{"i": 441, "p": 1.90044}]},
      "mark": {"type": "point", "shape": "M-.8,-.8H-.1V-.1H-.8Z", "size": 400, "filled": true, "fill": "#f7a8b0", "opacity": 1}
    },
    {
      "data": {"values": [{"i": 441, "p": 1.90044}]},
      "mark": {"type": "point", "shape": "M.3,-.5a.1,.1 0 1,0 .2,0a.1,.1 0 1,0 -.2,0ZM.5,0a.08,.08 0 1,0 .16,0a.08,.08 0 1,0 -.16,0ZM.1,.3a.08,.08 0 1,0 .16,0a.08,.08 0 1,0 -.16,0ZM-.6,.35a.14,.14 0 1,0 .28,0a.14,.14 0 1,0 -.28,0Z", "size": 400, "filled": true, "fill": "#ffffff", "opacity": 1}
    },
    {
      "data": {"values": [{"i": 5.08, "p": 1.89816}]},
      "mark": {
        "type": "point",
        "shape": "M-1,-.49H-.16V.49H-.59V-.1H-1ZM-.01,-.27a.15,.15 0 1,0 .3,0a.15,.15 0 1,0 -.3,0ZM1,-.49L.55,.49H.05L.5,-.49Z",
        "size": 1369,
        "filled": true,
        "fill": "#dcdcdc",
        "opacity": 1,
        "strokeWidth": 0
      }
    }
  ]
}
